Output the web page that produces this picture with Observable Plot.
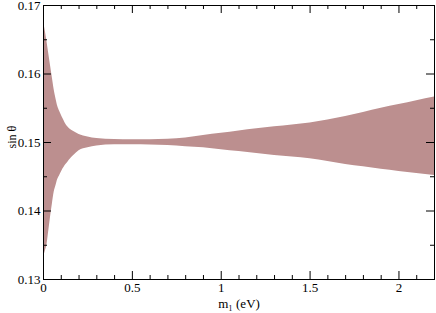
<!DOCTYPE html>
<html><head><meta charset="utf-8">
<script src="https://cdn.jsdelivr.net/npm/d3@7"></script>
<script src="https://cdn.jsdelivr.net/npm/@observablehq/plot@0.6"></script>
<style>
body{margin:0;background:#fff}
#chart svg{font-family:"Liberation Serif","Times New Roman",serif !important;font-size:13px !important;}
</style>
</head><body><div id="chart"></div>
<script>
const m1 =    [0, 0.01, 0.02, 0.03, 0.04, 0.05, 0.06, 0.07, 0.08, 0.09, 0.10, 0.11, 0.12, 0.13, 0.14, 0.15, 0.17, 0.20, 0.25, 0.30, 0.40, 0.50, 0.60, 0.70, 0.80, 0.90, 1.00, 1.10, 1.20, 1.30, 1.40, 1.50, 1.60, 1.70, 1.80, 1.90, 2.00, 2.10, 2.20];
const upper = [0.16756, 0.16629, 0.16464, 0.16289, 0.16114, 0.1594, 0.1577, 0.1564, 0.1553, 0.1546, 0.154, 0.15345, 0.15292, 0.1525, 0.1522, 0.15194, 0.1516, 0.15117, 0.1508, 0.15058, 0.15044, 0.1504, 0.1504, 0.15047, 0.15066, 0.15102, 0.15134, 0.15168, 0.152, 0.15229, 0.15255, 0.15285, 0.15328, 0.1538, 0.15438, 0.155, 0.15555, 0.1561, 0.15664];
const lower = [0.13326, 0.13412, 0.13516, 0.13715, 0.1392, 0.14102, 0.14273, 0.14368, 0.1446, 0.14511, 0.14564, 0.14615, 0.14658, 0.1469, 0.14724, 0.14755, 0.1481, 0.14879, 0.14923, 0.14949, 0.14966, 0.14966, 0.14962, 0.14955, 0.14937, 0.14923, 0.14895, 0.14869, 0.1484, 0.1481, 0.14787, 0.14762, 0.14723, 0.14679, 0.14645, 0.1461, 0.14578, 0.14547, 0.14518];
const xTicks = [0, 0.5, 1, 1.5, 2];
const xMinor = [0.1, 0.2, 0.3, 0.4, 0.6, 0.7, 0.8, 0.9, 1.1, 1.2, 1.3, 1.4, 1.6, 1.7, 1.8, 1.9, 2.1];
const yTicks = [0.13, 0.14, 0.15, 0.16, 0.17];
const yMinor = [0.135, 0.145, 0.155, 0.165];
const xLabel = "m₁ (eV)";
const yLabel = "sin θ";

const data = m1.map((x, i) => ({x, lo: lower[i], hi: upper[i]}));
const W = 436, Hh = 313, mL = 43, mR = 2, mT = 5, mB = 34;
const FW = W - mL - mR, FH = Hh - mT - mB;
const maj = 8, mnr = 4;
const font = {fontFamily: "Liberation Serif", fontSize: 13};

const chart = Plot.plot({
  width: W, height: Hh, marginLeft: mL, marginRight: mR, marginTop: mT, marginBottom: mB,
  x: {domain: [0, 2.2]},
  y: {domain: [0.13, 0.17]},
  marks: [
    Plot.areaY(data, {x: "x", y1: "lo", y2: "hi", fill: "#bc8f8f", curve: "monotone-x"}),
    Plot.tickX(xTicks, {insetTop: FH - maj, stroke: "#000"}),
    Plot.tickX(xTicks, {insetBottom: FH - maj, stroke: "#000"}),
    Plot.tickX(xMinor, {insetTop: FH - mnr, stroke: "#000"}),
    Plot.tickX(xMinor, {insetBottom: FH - mnr, stroke: "#000"}),
    Plot.tickY(yTicks, {insetRight: FW - maj, stroke: "#000"}),
    Plot.tickY(yTicks, {insetLeft: FW - maj, stroke: "#000"}),
    Plot.tickY(yMinor, {insetRight: FW - mnr, stroke: "#000"}),
    Plot.tickY(yMinor, {insetLeft: FW - mnr, stroke: "#000"}),
    Plot.frame({stroke: "#000"}),
    Plot.axisX(xTicks, {tickSize: 0, tickPadding: 3, label: null, tickFormat: d => String(d), ...font}),
    Plot.axisY(yTicks, {tickSize: 0, tickPadding: 3, label: null, tickFormat: d3.format(".2f"), ...font}),
    Plot.text([xLabel], {frameAnchor: "bottom", dy: 24, lineAnchor: "middle", fill: "#000", ...font}),
    Plot.text([yLabel], {frameAnchor: "left", dx: -31, dy: 6, rotate: -90, lineAnchor: "middle", fill: "#000", fontFamily: "Liberation Serif", fontSize: 12})
  ]
});
document.getElementById("chart").appendChild(chart);
</script>
</body></html>
